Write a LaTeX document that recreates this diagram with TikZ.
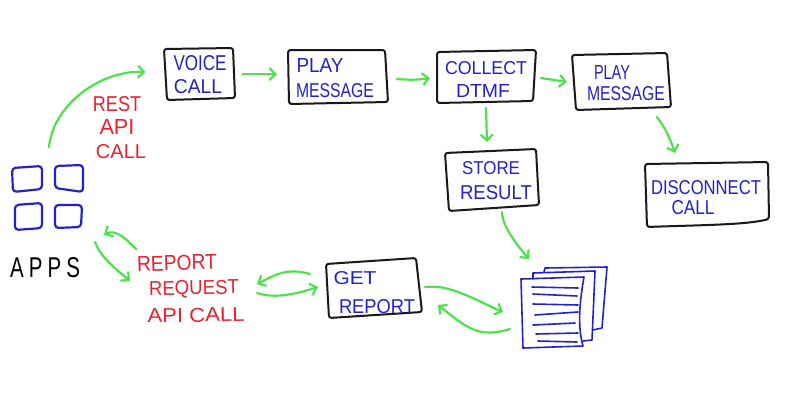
\documentclass[tikz,border=0pt]{standalone}
\usepackage{fontspec}
\usepackage{graphicx}
\setmainfont{Liberation Sans}
\usetikzlibrary{arrows.meta}
\definecolor{flowgreen}{HTML}{4DE24D}
\definecolor{inkblue}{HTML}{2222CC}
\definecolor{inkred}{HTML}{E8222C}
% one hand-lettered line: dx, baseline dy (picture px, down positive), width, cap height, text
\newcommand\handline[6][0]{\makebox[0pt][c]{\kern#2pt\kern#2pt\smash{\raisebox{-#3pt}{\rotatebox[origin=c]{#1}{\resizebox{#4pt}{#5pt}{#6}}}}}}
\tikzset{
  x=1pt,y=-1pt,
  anchorbox/.style={rectangle,inner sep=0pt,outer sep=0pt,minimum width=#1},
  bluetext/.style={text=inkblue},
  redtext/.style={text=inkred},
  sketch/.style={draw=black!90,line width=2pt,rounded corners=2.5pt,line join=round},
  bluesketch/.style={draw=inkblue,line width=2.2pt,rounded corners=3.5pt,line join=round},
  bluefine/.style={draw=inkblue,line width=1.6pt,line join=round,line cap=round},
  flow/.style={draw=flowgreen,line width=2.2pt,line cap=round,-{Straight Barb[length=6pt,width=12pt,line width=2.2pt]}},
}
\begin{document}
\begin{tikzpicture}
\useasboundingbox[fill=white] (0,0) rectangle (800,400);

% hand-drawn outlines
\draw[sketch] (164,49) -- (233,48) -- (235,98) -- (167,100) -- cycle;
\draw[sketch] (288,50) -- (385,50) -- (388,102) -- (289,104) -- cycle;
\draw[sketch] (437,52) -- (536,50) -- (533,101) -- (437,103) -- cycle;
\draw[sketch] (572,55) -- (667,53) -- (671,107) -- (576,110) -- cycle;
\draw[sketch] (445,153) -- (536,149) -- (539,205) -- (449,211) -- cycle;
\draw[sketch] (645,164) -- (768,162) -- (769,219) .. controls (745,225) and (700,225) .. (647,227) -- cycle;
\draw[sketch] (326,264) -- (416,258) -- (422,312) -- (329,318) -- cycle;

% app icons
\draw[bluesketch] (12,168) -- (42,166) -- (42,189) -- (13,192) -- cycle;
\draw[bluesketch] (55,166) -- (83,165) -- (83,192) -- (55,188) -- cycle;
\draw[bluesketch] (15,205) -- (42,203) -- (42,228) -- (15,230) -- cycle;
\draw[bluesketch] (55,205) -- (82,205) -- (81,227) -- (55,228) -- cycle;

% stack of documents
\draw[bluefine] (544,272) -- (545,268) -- (607,267) -- (602,328) -- (593,330);
\draw[bluefine] (533,279) -- (533,273) -- (595,271) -- (592,340) -- (583,341);
\draw[bluefine] (521,279) -- (584,277) .. controls (580,300) and (577,325) .. (583,346) -- (523,348) -- cycle;
\draw[bluefine] (532,287) -- (578,288);
\draw[bluefine] (533,294) -- (577,296);
\draw[bluefine] (533,304) -- (578,305);
\draw[bluefine] (535,315) -- (578,312);
\draw[bluefine] (533,325) -- (575,323);
\draw[bluefine] (536,334) -- (578,333);
\draw[bluefine] (538,341) -- (577,342);

% nodes
\node[anchorbox=70pt,minimum height=51pt,bluetext] (voice) at (199.5,74) {\handline{.5}{-3.5}{53}{15}{VOICE}\handline{-1.5}{19}{48}{14}{CALL}};
\node[anchorbox=100pt,minimum height=54pt,bluetext] (play) at (338,77) {\handline{-18}{-5}{47}{14}{PLAY}\handline{-3}{20.5}{78}{14}{MESSAGE}};
\node[anchorbox=99pt,minimum height=53pt,bluetext] (collect) at (486.5,76.5) {\handline{-.5}{-2}{82}{13}{COLLECT}\handline{-3.5}{21}{54}{13}{DTMF}};
\node[anchorbox=99pt,minimum height=57pt,bluetext] (playtwo) at (621.5,81.5) {\handline{-9.5}{-2.5}{36}{14}{PLAY}\handline{4.5}{19}{78}{14}{MESSAGE}};
\node[anchorbox=94pt,minimum height=62pt,bluetext] (store) at (492,180) {\handline{-1}{-5.5}{58}{13}{STORE}\handline{4}{19}{72}{14}{RESULT}};
\node[anchorbox=124pt,minimum height=65pt,bluetext] (disconnect) at (707,194.5) {\handline{-1}{-.5}{110}{14}{DISCONNECT}\handline{-14}{19.5}{43}{14}{CALL}};
\node[anchorbox=96pt,minimum height=60pt,bluetext] (getreport) at (374,288) {\handline{-19}{-3.5}{43}{13}{GET}\handline{3}{25}{76}{14}{REPORT}};
\node[anchorbox=71pt,minimum height=65pt] (grid) at (47.5,197.5) {};
\node[anchorbox=86pt,minimum height=81pt] (docs) at (564,307.5) {};
\node[anchorbox=60pt,minimum height=70pt,redtext] (rest) at (119,128) {\handline{-2}{-16.5}{48}{15}{REST}\handline{-2}{6.5}{35}{15}{API}\handline{2}{30.5}{50}{14}{CALL}};
\node[anchorbox=70pt,minimum height=20pt] (apps) at (45,267) {\handline{0}{10}{70}{20}{\addfontfeature{LetterSpace=25}APPS}};
\node[anchorbox=108pt,minimum height=73pt,redtext] (request) at (191,288.5) {\handline[2]{-14}{-18}{80}{15}{REPORT}\handline[1]{3}{6}{90}{14}{REQUEST}\handline[1]{5}{33.5}{97}{14}{API CALL}};

% connectors
\draw[flow] ([shift={(1.5,-18)}]grid.north) .. controls +(4,-42) and +(-45,-2) .. ([shift={(-19,-2)}]voice.west);
\draw[flow] ([shift={(8,0)}]voice.east) -- ([shift={(-11,-3)}]play.west);
\draw[flow] ([shift={(9,2)}]play.east) .. controls +(12,1) and +(-12,2) .. ([shift={(-7,1.5)}]collect.west);
\draw[flow] ([shift={(5,1.5)}]collect.east) -- ([shift={(-5,.5)}]playtwo.west);
\draw[flow] ([shift={(-.5,5)}]collect.south) -- ([shift={(-5,-7)}]store.north);
\draw[flow] ([shift={(35.5,7)}]playtwo.south) .. controls +(8,10) and +(-4,-12) .. ([shift={(-32,-9)}]disconnect.north);
\draw[flow] ([shift={(10,1)}]store.south) .. controls +(0,14) and +(-12,-14) .. ([shift={(-35,-8)}]docs.north);
\draw[flow] ([shift={(-55,-3)}]request.north) .. controls +(-8,-8) and +(12,-7) .. ([shift={(56.5,5)}]grid.south);
\draw[flow] ([shift={(47.5,12)}]grid.south) .. controls +(6,16) and +(-14,-12) .. ([shift={(-7,-7.5)}]request.west);
\draw[flow] ([shift={(-16,-14)}]getreport.west) .. controls +(-24,-7) and +(16,-8) .. ([shift={(12,-4.5)}]request.east);
\draw[flow] ([shift={(12,4.5)}]request.east) .. controls +(18,6) and +(-22,7) .. ([shift={(-8,-1)}]getreport.west);
\draw[flow] ([shift={(3,-1)}]getreport.east) .. controls +(25,-3) and +(-30,-13) .. ([shift={(-18,4.5)}]docs.west);
\draw[flow] ([shift={(-11,21.5)}]docs.west) .. controls +(-32,10) and +(28,22) .. ([shift={(16,17)}]getreport.east);
\end{tikzpicture}
\end{document}
